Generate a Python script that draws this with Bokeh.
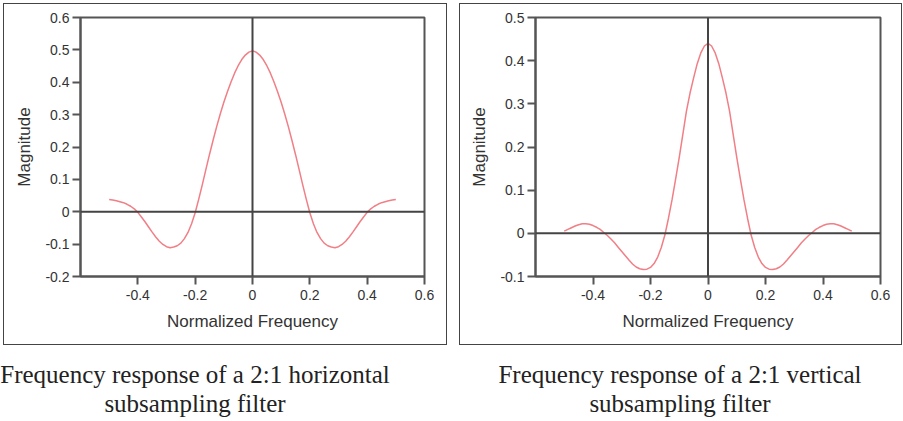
from bokeh.plotting import figure
from bokeh.models import FixedTicker, Span, Div
from bokeh.layouts import column, row
from bokeh.embed import file_html
from bokeh.resources import INLINE

# ---- data ----
freq = [-0.5, -0.4875, -0.475, -0.4625, -0.45, -0.4375, -0.425, -0.4125, -0.4, -0.3875,
        -0.375, -0.3625, -0.35, -0.3375, -0.325, -0.3125, -0.3, -0.2875, -0.275, -0.2625,
        -0.25, -0.2375, -0.225, -0.2125, -0.2, -0.1875, -0.175, -0.1625, -0.15, -0.1375,
        -0.125, -0.1125, -0.1, -0.0875, -0.075, -0.0625, -0.05, -0.0375, -0.025, -0.0125,
        0.0,
        0.0125, 0.025, 0.0375, 0.05, 0.0625, 0.075, 0.0875, 0.1, 0.1125, 0.125,
        0.1375, 0.15, 0.1625, 0.175, 0.1875, 0.2, 0.2125, 0.225, 0.2375, 0.25,
        0.2625, 0.275, 0.2875, 0.3, 0.3125, 0.325, 0.3375, 0.35, 0.3625, 0.375,
        0.3875, 0.4, 0.4125, 0.425, 0.4375, 0.45, 0.4625, 0.475, 0.4875, 0.5]

horiz_mag = [0.038, 0.036, 0.034, 0.031, 0.028, 0.023, 0.017, 0.009, -0.002, -0.016,
             -0.031, -0.047, -0.063, -0.078, -0.091, -0.101, -0.108, -0.111, -0.109, -0.105,
             -0.097, -0.083, -0.064, -0.037, -0.003, 0.039, 0.084, 0.131, 0.177, 0.221,
             0.263, 0.302, 0.338, 0.371, 0.401, 0.428, 0.451, 0.470, 0.484, 0.493,
             0.497,
             0.493, 0.484, 0.470, 0.451, 0.428, 0.401, 0.371, 0.338, 0.302, 0.263,
             0.221, 0.177, 0.131, 0.084, 0.039, -0.003, -0.037, -0.064, -0.083, -0.097,
             -0.105, -0.109, -0.111, -0.108, -0.101, -0.091, -0.078, -0.063, -0.047, -0.031,
             -0.016, -0.002, 0.009, 0.017, 0.023, 0.028, 0.031, 0.034, 0.036, 0.038]

vert_mag = [0.005, 0.009, 0.013, 0.017, 0.020, 0.022, 0.022, 0.021, 0.018, 0.014,
            0.009, 0.002, -0.005, -0.013, -0.022, -0.032, -0.042, -0.052, -0.062, -0.071,
            -0.078, -0.082, -0.084, -0.083, -0.079, -0.070, -0.055, -0.033, -0.004, 0.035,
            0.078, 0.126, 0.176, 0.229, 0.283, 0.325, 0.360, 0.393, 0.418, 0.434,
            0.440,
            0.434, 0.418, 0.393, 0.360, 0.325, 0.283, 0.229, 0.176, 0.126, 0.078,
            0.035, -0.004, -0.033, -0.055, -0.070, -0.079, -0.083, -0.084, -0.082, -0.078,
            -0.071, -0.062, -0.052, -0.042, -0.032, -0.022, -0.013, -0.005, 0.002, 0.009,
            0.014, 0.018, 0.021, 0.022, 0.022, 0.020, 0.017, 0.013, 0.009, 0.005]

x_ticks = [-0.4, -0.2, 0.0, 0.2, 0.4, 0.6]
x_tick_labels = ["-0.4", "-0.2", "0", "0.2", "0.4", "0.6"]
y_ticks_h = [-0.2, -0.1, 0.0, 0.1, 0.2, 0.3, 0.4, 0.5, 0.6]
y_tick_labels_h = ["-0.2", "-0.1", "0", "0.1", "0.2", "0.3", "0.4", "0.5", "0.6"]
y_ticks_v = [-0.1, 0.0, 0.1, 0.2, 0.3, 0.4, 0.5]
y_tick_labels_v = ["-0.1", "0", "0.1", "0.2", "0.3", "0.4", "0.5"]

captions = ["Frequency response of a 2:1 horizontal<br>subsampling filter",
            "Frequency response of a 2:1 vertical<br>subsampling filter"]

CURVE = "#f07f86"
AXC = "#555555"
TXT = "#333333"


def make_panel(xs, ys, yr, yticks, ylabels, width, left, right):
    p = figure(width=width, height=342, x_range=(-0.6, 0.6), y_range=yr,
               output_backend="svg", toolbar_location=None,
               min_border_left=left, min_border_right=right,
               min_border_top=13, min_border_bottom=70,
               x_axis_label="Normalized Frequency", y_axis_label="Magnitude",
               styles={"border": "1.5px solid #444444", "box-sizing": "border-box"})
    p.grid.visible = False
    p.outline_line_color = AXC
    p.outline_line_width = 2
    p.outline_line_alpha = 1
    p.background_fill_color = "white"
    p.border_fill_color = "white"
    for ax in (p.xaxis[0], p.yaxis[0]):
        ax.axis_line_color = AXC
        ax.axis_line_width = 2
        ax.major_tick_line_color = AXC
        ax.major_tick_line_width = 2
        ax.major_tick_out = 8
        ax.major_tick_in = 0
        ax.minor_tick_line_color = None
        ax.major_label_text_font = "Liberation Sans"
        ax.major_label_text_font_size = "14px"
        ax.major_label_text_color = TXT
        ax.axis_label_text_font = "Liberation Sans"
        ax.axis_label_text_font_size = "17px"
        ax.axis_label_text_font_style = "normal"
        ax.axis_label_text_color = TXT
    p.xaxis[0].ticker = FixedTicker(ticks=x_ticks)
    p.xaxis[0].major_label_overrides = dict(zip(x_ticks, x_tick_labels))
    p.xaxis[0].major_label_standoff = 5
    p.xaxis[0].axis_label_standoff = 9
    p.yaxis[0].ticker = FixedTicker(ticks=yticks)
    p.yaxis[0].major_label_overrides = dict(zip(yticks, ylabels))
    p.yaxis[0].major_label_standoff = 3
    p.yaxis[0].axis_label_standoff = 8
    p.add_layout(Span(location=0, dimension="width", line_color="#444444", line_width=2))
    p.add_layout(Span(location=0, dimension="height", line_color="#444444", line_width=2))
    p.line(xs, ys, line_color=CURVE, line_width=1.5)
    return p


p1 = make_panel(freq, horiz_mag, (-0.2, 0.6), y_ticks_h, y_tick_labels_h, 444, 76, 24)
p2 = make_panel(freq, vert_mag, (-0.1, 0.5), y_ticks_v, y_tick_labels_v, 443, 75, 23)

cap_style = {"font-family": "Liberation Serif", "font-size": "25px", "color": "#222222",
             "text-align": "center", "line-height": "29px", "white-space": "nowrap"}
d1 = Div(text=captions[0], width=408, height=62, styles=cap_style)
d2 = Div(text=captions[1], width=400, height=62, styles=cap_style)

top = row(p1, p2, spacing=12)
bottom = row(d1, d2, spacing=71, styles={"margin-left": "-17px"})
layout = column(top, bottom, spacing=10,
                styles={"margin-left": "3px", "margin-top": "3px"})

open("out.html", "w").write(file_html(layout, INLINE))
